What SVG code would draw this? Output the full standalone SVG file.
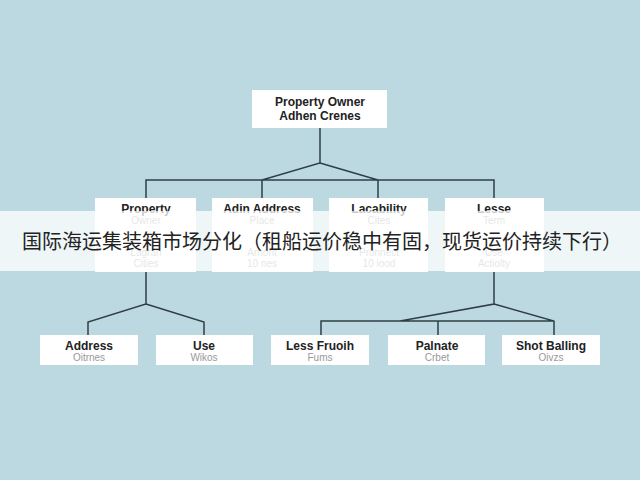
<svg xmlns="http://www.w3.org/2000/svg" width="640" height="480" viewBox="0 0 640 480">
<style>
.b{fill:#fff}
.c{fill:none;stroke:#2f3e46;stroke-width:1.5}
.t{font-family:"Liberation Sans",Arial,sans-serif;font-size:12px;font-weight:bold;fill:#222;text-anchor:middle}
.s{font-family:"Liberation Sans",Arial,sans-serif;font-size:10px;fill:#999;text-anchor:middle}
.cn{font-family:"Noto Sans CJK SC",sans-serif;font-size:20px;fill:#222}
</style>
<rect width="640" height="480" fill="#bcd9e2"/>
<g id="connectors" class="c">
<path d="M320,128V163L262,180M320,163L378,180M146,200V180H494V200M262,180V200M378,180V200"/>
<path d="M146,272V304L88,322V335M146,304L204,322V335"/>
<path d="M494,272V304L400,321M494,304L554,321V335M321,335V321H554M438,321V335"/>
</g>
<g id="root"><rect class="b" x="252" y="90" width="135" height="38"/><text class="t" x="320" y="106">Property Owner</text><text class="t" x="320" y="120">Adhen Crenes</text></g>
<g id="n1"><rect class="b" x="95" y="198" width="101" height="74"/><text class="t" x="146" y="213">Property</text><text class="s" x="146" y="224">Owner</text><text class="s" x="146" y="256">Lagran</text><text class="s" x="146" y="267">Cities</text></g>
<g id="n2"><rect class="b" x="212" y="198" width="101" height="74"/><text class="t" x="262" y="213">Adin Address</text><text class="s" x="262" y="224">Place</text><text class="s" x="262" y="256">Arhont</text><text class="s" x="262" y="267">10 nes</text></g>
<g id="n3"><rect class="b" x="329" y="198" width="99" height="74"/><text class="t" x="379" y="213">Lacability</text><text class="s" x="379" y="224">Cites</text><text class="s" x="379" y="256">Pronnect</text><text class="s" x="379" y="267">10 iood</text></g>
<g id="n4"><rect class="b" x="445" y="198" width="99" height="74"/><text class="t" x="494" y="213">Lesse</text><text class="s" x="494" y="224">Term</text><text class="s" x="494" y="256">Use</text><text class="s" x="494" y="267">Actiolty</text></g>
<g id="n5"><rect class="b" x="40" y="335" width="98" height="30"/><text class="t" x="89" y="350">Address</text><text class="s" x="89" y="361">Oitrnes</text></g>
<g id="n6"><rect class="b" x="156" y="335" width="97" height="30"/><text class="t" x="204" y="350">Use</text><text class="s" x="204" y="361">Wikos</text></g>
<g id="n7"><rect class="b" x="271" y="335" width="98" height="30"/><text class="t" x="320" y="350">Less Fruoih</text><text class="s" x="320" y="361">Fums</text></g>
<g id="n8"><rect class="b" x="388" y="335" width="97" height="30"/><text class="t" x="437" y="350">Palnate</text><text class="s" x="437" y="361">Crbet</text></g>
<g id="n9"><rect class="b" x="502" y="335" width="98" height="30"/><text class="t" x="551" y="350">Shot Balling</text><text class="s" x="551" y="361">Oivzs</text></g>
<rect x="0" y="211" width="640" height="60" fill="#fff" fill-opacity="0.75"/>
<text class="cn" x="22" y="249">国际海运集装箱市场分化（租船运价稳中有固，现货运价持续下行）</text>
</svg>
